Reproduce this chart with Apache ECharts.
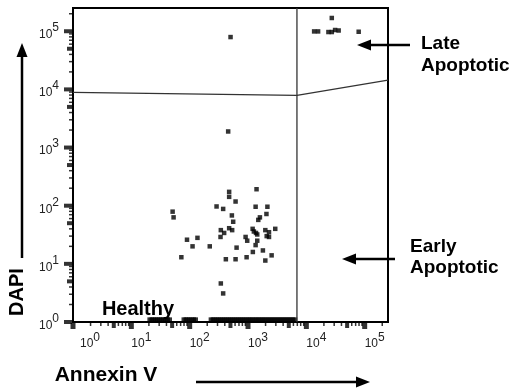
<!DOCTYPE html>
<html>
<head>
<meta charset="utf-8">
<script src="https://cdn.jsdelivr.net/npm/echarts@6/dist/echarts.min.js"></script>
<style>
  html, body { margin: 0; padding: 0; background: #fff; }
  #chart { width: 522px; height: 389px; }
</style>
</head>
<body>
<div id="chart"></div>
<script>
// events: Annexin V intensity / DAPI intensity
const annexinV = [
  27300, 13600, 15900, 23900, 27300, 31100, 35800, 78900,
  502, 457,
  1400, 475, 475, 612, 289, 375, 1350, 2150, 2070, 529, 557, 1600, 1500,
  475, 535, 342, 390, 338, 1200, 1260, 1370, 1440, 1980, 2930, 2290, 2090,
  2290, 909, 969, 1440, 1350, 90, 136, 112, 221, 637, 1800, 1210, 72, 417,
  612, 946, 2540, 1980, 342, 375, 51, 53
];
const dapi = [
  169000, 99300, 99300, 96900, 96900, 105000, 103000, 98000,
  79400, 1890,
  192, 173, 142, 118, 97, 88, 96, 96, 72, 68, 53, 63, 57,
  41, 38, 38, 34, 29, 40, 36, 34, 32, 38, 40, 35, 30,
  29, 29, 25, 25, 21, 26, 28, 20, 20, 19, 17, 16, 13, 12,
  12, 13, 14, 11.4, 4.6, 3.1, 79, 63
];

// DAPI-negative events piled on the axis floor
const floorAnnexin = [
  20.6, 22.4, 24.2, 26.2, 28.3, 30.7, 33.2, 35.9, 38.8, 42.0, 45.5,
  79.2, 85.7, 92.7, 100, 109, 118, 127,
  231, 250, 270, 292, 316, 342, 371, 401, 434, 470, 508, 550, 596, 645,
  698, 755, 817, 885, 957, 1040, 1120, 1210, 1320, 1420, 1540, 1670, 1800,
  1950, 2110, 2290, 2480, 2680, 2900, 3140, 3400, 3680, 3980, 4310, 4660,
  5050, 5460, 5910, 6400
];
const floorDapi = 1.1;

// quadrant gates
const gateHX = [1, 6900, 251000];
const gateHY = [8900, 7900, 14400];
const gateVX = [6900, 6900];
const gateVY = [1, 251000];

const axisMaxValue = 251000;
const majorTicks = [1, 10, 100, 1000, 10000, 100000];
const midTicks = [5, 50, 500, 5000, 50000];
const minorMult = [2, 3, 4, 6, 7, 8, 9];

const lg = v => Math.log10(v);
const LOG_MAX = lg(axisMaxValue);
const minorTicks = [];
majorTicks.forEach(d => minorMult.forEach(m => {
  if (lg(d * m) <= LOG_MAX) minorTicks.push(d * m);
}));

const FONT = '"Liberation Sans", Arial, Helvetica, sans-serif';
const txt = { fontSize: 12, fontFamily: FONT, color: '#222', lineHeight: 14 };
// superscript raised by padding: base pushed down, exponent pushed up
const richX = {
  b: Object.assign({}, txt, { padding: [6, 0, 0, 0] }),
  q: Object.assign({}, txt, { padding: [6, 0, 0, 7] }),
  s: Object.assign({}, txt, { padding: [0, 0, 6, 0] })
};
const richY = {
  b: Object.assign({}, txt, { padding: [7, 0, 0, 0] }),
  s: Object.assign({}, txt, { padding: [0, 0, 7, 0] })
};

function makeAxis(dim) {
  const isX = dim === 'x';
  return {
    type: 'value', min: 0, max: LOG_MAX,
    position: isX ? 'bottom' : 'left',
    splitLine: { show: false },
    axisLine: { show: true, onZero: false, lineStyle: { color: '#000', width: 2 } },
    axisTick: { show: false },
    axisLabel: {
      customValues: majorTicks.map(lg),
      align: isX ? 'left' : 'right',
      verticalAlign: isX ? 'top' : 'middle',
      margin: isX ? 12 : 14,
      formatter: v => {
        const e = Math.round(v);
        return (isX && e === 0 ? '{q|10}' : '{b|10}') + '{s|' + e + '}';
      },
      rich: isX ? richX : richY
    }
  };
}

// tick marks drawn as small rects hanging off the axes
function tickSeries(values, dim, len, thick) {
  const isX = dim === 'x';
  return {
    type: 'scatter', silent: true, clip: false, symbol: 'rect',
    symbolSize: isX ? [thick, len] : [len, thick],
    symbolOffset: isX ? [0, 1 + len / 2] : [-(1 + len / 2), 0],
    itemStyle: { color: '#000' },
    data: values.map(v => isX ? [lg(v), 0] : [0, lg(v)])
  };
}

const chart = echarts.init(document.getElementById('chart'));

function arrow(x1, y1, x2, y2) {
  const dx = x2 - x1, dy = y2 - y1;
  const len = Math.sqrt(dx * dx + dy * dy);
  const ux = dx / len, uy = dy / len;
  const hl = 14, hw = 5.5;
  const bx = x2 - ux * hl, by = y2 - uy * hl;
  return [
    { type: 'line', shape: { x1: x1, y1: y1, x2: bx + ux * 2, y2: by + uy * 2 },
      style: { stroke: '#000', lineWidth: 2.5 } },
    { type: 'polygon', shape: { points: [[x2, y2], [bx - uy * hw, by + ux * hw], [bx + uy * hw, by - ux * hw]] },
      style: { fill: '#000' } }
  ];
}

function label(text, x, y, align, size, rotation) {
  return {
    type: 'text', x: x, y: y, rotation: rotation || 0,
    style: {
      text: text, font: 'bold ' + size + 'px ' + FONT, fill: '#000',
      align: align, verticalAlign: 'middle', textAlign: align, textVerticalAlign: 'middle'
    }
  };
}

const option = {
  animation: false,
  backgroundColor: '#fff',
  grid: {
    left: 73, right: 134, top: 8, bottom: 67,
    show: true, borderColor: '#000', borderWidth: 2,
    outerBoundsMode: 'none'
  },
  xAxis: makeAxis('x'),
  yAxis: makeAxis('y'),
  series: [
    {
      type: 'line', silent: true, symbol: 'none',
      data: gateHX.map((x, i) => [lg(x), lg(gateHY[i])]),
      lineStyle: { color: '#333', width: 1.3 }
    },
    {
      type: 'line', silent: true, symbol: 'none',
      data: gateVX.map((x, i) => [lg(x), lg(gateVY[i])]),
      lineStyle: { color: '#333', width: 1.3 }
    },
    {
      type: 'scatter', symbol: 'rect', symbolSize: 4.5,
      itemStyle: { color: '#000' },
      data: annexinV.map((x, i) => [lg(x), lg(dapi[i])])
    },
    {
      type: 'scatter', symbol: 'rect', symbolSize: 4.5, clip: false,
      itemStyle: { color: '#000' },
      data: floorAnnexin.map(x => [lg(x), lg(floorDapi)])
    },
    tickSeries(majorTicks, 'x', 6, 5),
    tickSeries(midTicks, 'x', 5, 4),
    tickSeries(minorTicks, 'x', 3, 1.5),
    tickSeries(majorTicks, 'y', 8, 4),
    tickSeries(midTicks, 'y', 5, 4),
    tickSeries(minorTicks, 'y', 3, 1.5)
  ],
  graphic: [].concat(
    arrow(22, 258, 22, 43),
    arrow(196, 382, 370, 382),
    arrow(410, 45, 357, 45),
    arrow(395, 259, 342, 259),
    [
      label('DAPI', 17, 292, 'center', 20, Math.PI / 2),
      label('Annexin V', 106, 375, 'center', 21),
      label('Healthy', 138, 309, 'center', 20),
      label('Late', 421, 44, 'left', 19),
      label('Apoptotic', 421, 66, 'left', 19),
      label('Early', 410, 247, 'left', 19),
      label('Apoptotic', 410, 268, 'left', 19)
    ]
  )
};

chart.setOption(option);
</script>
</body>
</html>
